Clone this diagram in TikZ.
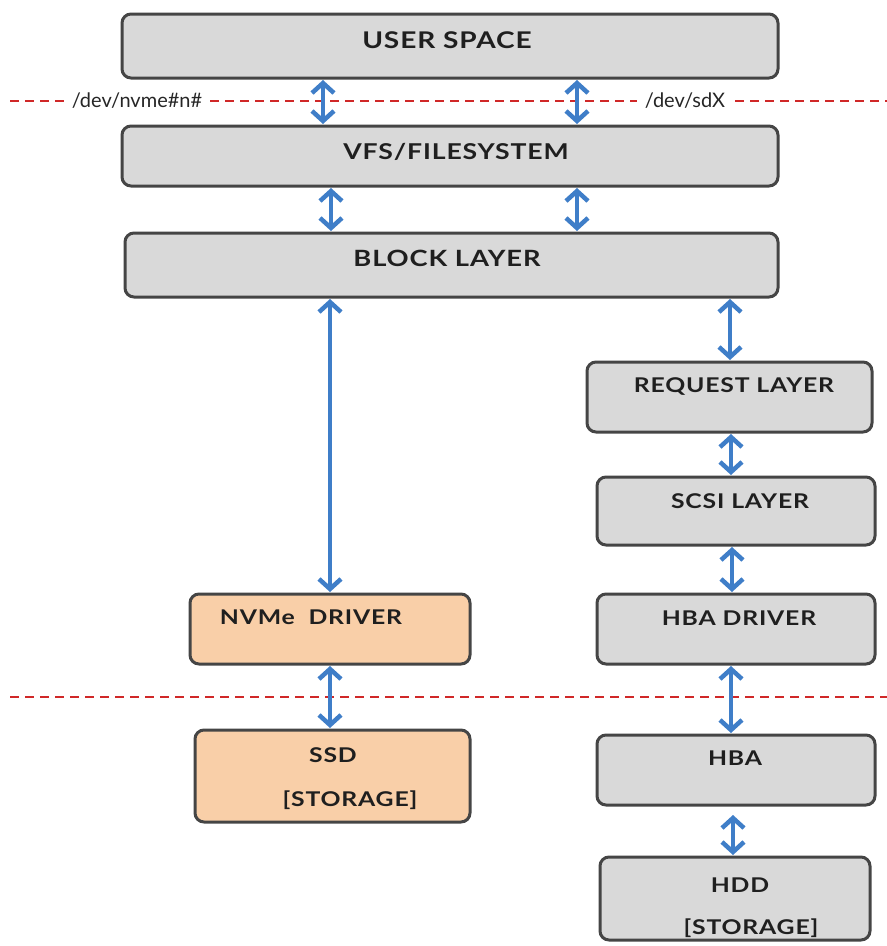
\documentclass[tikz,border=0pt]{standalone}
\usepackage{fontspec}
\setmainfont{Lato}
\newfontfamily\boxfont{Lato}[FakeStretch=1.22, LetterSpace=4]
\usetikzlibrary{arrows.meta}
\definecolor{boxgray}{HTML}{D9D9D9}
\definecolor{boxorange}{HTML}{F9CFA8}
\definecolor{edge}{HTML}{454545}
\definecolor{linkblue}{HTML}{3F7EC8}
\definecolor{cutred}{HTML}{D02828}
\tikzset{
  layer/.style={draw=edge, line width=3pt, rounded corners=9pt, fill=boxgray, inner sep=0pt},
  ssdlayer/.style={layer, fill=boxorange},
  lbl/.style={font=\boxfont\bfseries\fontsize{20.3}{22}\selectfont, text=black!88, inner sep=0pt},
  biglbl/.style={lbl, font=\boxfont\bfseries\fontsize{#1}{24}\selectfont},
  devlbl/.style={font=\fontsize{20}{22}\selectfont, text=black!85, inner sep=0pt},
  link/.style={draw=linkblue, line width=4.5pt, {Straight Barb[length=10pt,width=22pt,line width=4.5pt]}-{Straight Barb[length=10pt,width=22pt,line width=4.5pt]}},
  cut/.style={draw=cutred, line width=2.2pt, dash pattern=on 9pt off 6pt}
}
\begin{document}
\begin{tikzpicture}[x=1pt,y=-1pt]
\useasboundingbox (0,0) rectangle (887,946);

% layer boxes (corner to corner)
\draw[layer] (122,14) rectangle (778,78);
\draw[layer] (122,126) rectangle (778,186);
\draw[layer] (125,233) rectangle (778,297);
\draw[layer] (587,362) rectangle (872,432);
\draw[layer] (597,477) rectangle (875,545);
\draw[layer] (597,594) rectangle (875,664);
\draw[ssdlayer] (190,594) rectangle (470,664);
\draw[ssdlayer] (195,730) rectangle (470,822);
\draw[layer] (597,735) rectangle (875,805);
\draw[layer] (600,857) rectangle (870,940);

% box anchors for the connectors
\coordinate (us1) at (323,80);   \coordinate (vfs1t) at (323,124);
\coordinate (us2) at (577,80);   \coordinate (vfs2t) at (577,124);
\coordinate (vfs1b) at (331,188); \coordinate (blk1t) at (331,231);
\coordinate (vfs2b) at (577,188); \coordinate (blk2t) at (577,231);
\coordinate (blk1b) at (330,299); \coordinate (nvt) at (330,592);
\coordinate (blk2b) at (730,299); \coordinate (reqt) at (730,360);
\coordinate (reqb) at (731,434); \coordinate (scst) at (731,475);
\coordinate (scsb) at (732,547); \coordinate (hbdt) at (732,592);
\coordinate (nvb) at (330,666);  \coordinate (ssdt) at (330,728);
\coordinate (hbdb) at (731,666); \coordinate (hbat) at (731,733);
\coordinate (hbab) at (733,815); \coordinate (hddt) at (733,855);

% labels
\node[biglbl=23] (tus) at (447,40) {USER SPACE};
\node[biglbl=21.8] (tvfs) at (456,152) {VFS/FILESYSTEM};
\node[biglbl=22.4] (tblk) at (447,258) {BLOCK LAYER};
\node[lbl] (treq) at (734,387) {REQUEST LAYER};
\node[lbl] (tscs) at (740,501) {SCSI LAYER};
\node[lbl] (thbd) at (739,618) {HBA DRIVER};
\node[lbl] (tnv) at (311,617) {NVMe\ \ DRIVER};
\node[lbl] (tssd) at (333,755) {SSD};
\node[lbl] (tssd2) at (350,800) {[STORAGE]};
\node[lbl] (thba) at (735,758) {HBA};
\node[lbl] (thdd) at (740,885) {HDD};
\node[lbl] (thdd2) at (751,928) {[STORAGE]};

% device boundary with node names
\node[devlbl] (nvmedev) at (137,101) {/dev/nvme\#n\#};
\node[devlbl] (sddev) at (685,101) {/dev/sdX};
\coordinate (cutL) at (10,101);
\coordinate (cutR) at (887,101);
\draw[cut, line width=1.6pt] (cutL) -- ([xshift=-8pt]nvmedev.west);
\draw[cut, line width=1.8pt] ([xshift=8pt]nvmedev.east) -- ([xshift=-8pt]sddev.west);
\draw[cut] ([xshift=10pt]sddev.east) -- (cutR);

% hardware boundary
\coordinate (hwL) at (10,697);
\coordinate (hwR) at (887,697);
\draw[cut] (hwL) -- (hwR);

% connectors
\draw[link] (us1) -- (vfs1t);
\draw[link] (us2) -- (vfs2t);
\draw[link] (vfs1b) -- (blk1t);
\draw[link] (vfs2b) -- (blk2t);
\draw[link] (blk1b) -- (nvt);
\draw[link] (blk2b) -- (reqt);
\draw[link] (reqb) -- (scst);
\draw[link] (scsb) -- (hbdt);
\draw[link] (nvb) -- (ssdt);
\draw[link] (hbdb) -- (hbat);
\draw[link] (hbab) -- (hddt);
\end{tikzpicture}
\end{document}
